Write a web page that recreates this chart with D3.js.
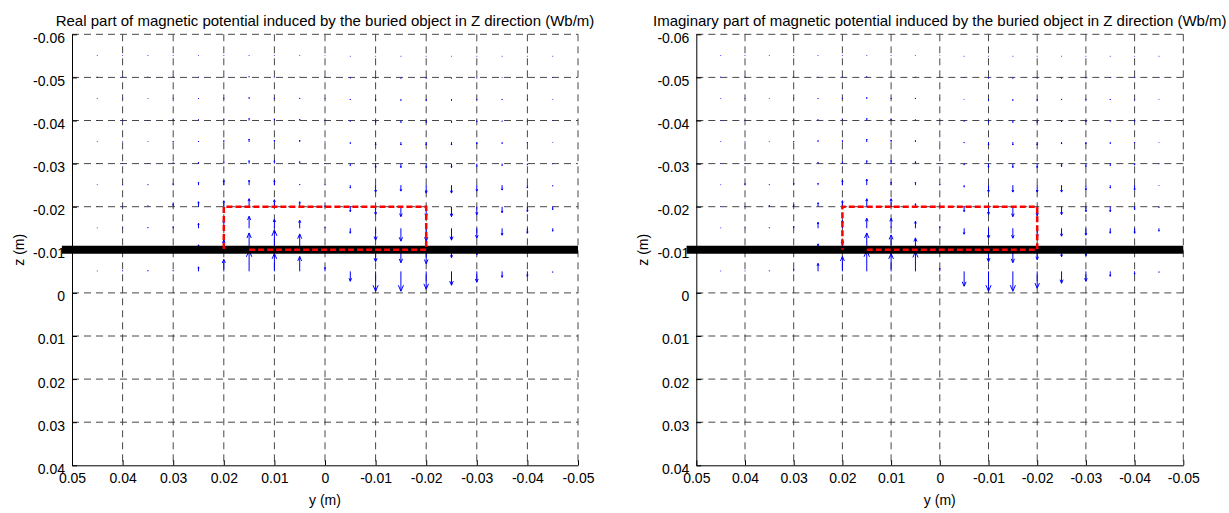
<!DOCTYPE html>
<html>
<head>
<meta charset="utf-8">
<script src="https://cdn.jsdelivr.net/npm/d3@7"></script>
<style>
  body { margin: 0; background: #fff; }
  svg { display: block; font-family: "Liberation Sans", Arial, sans-serif; }
</style>
</head>
<body>
<svg id="chart" width="1229" height="513"></svg>
<script>
// tick values / labels
var yTicks = [0.05, 0.04, 0.03, 0.02, 0.01, 0, -0.01, -0.02, -0.03, -0.04, -0.05];
var yLabels = ["0.05", "0.04", "0.03", "0.02", "0.01", "0", "-0.01", "-0.02", "-0.03", "-0.04", "-0.05"];
var zTicks = [-0.06, -0.05, -0.04, -0.03, -0.02, -0.01, 0, 0.01, 0.02, 0.03, 0.04];
var zLabels = ["-0.06", "-0.05", "-0.04", "-0.03", "-0.02", "-0.01", "0", "0.01", "0.02", "0.03", "0.04"];

// quiver grid
var gridY = [0.045, 0.04, 0.035, 0.03, 0.025, 0.02, 0.015, 0.01, 0.005, 0,
             -0.005, -0.01, -0.015, -0.02, -0.025, -0.03, -0.035, -0.04, -0.045];
var gridZ = [-0.055, -0.05, -0.045, -0.04, -0.035, -0.03, -0.025, -0.02, -0.015, -0.01, -0.005];

// z component of the arrows, one array per y column (top row first)
var realDz = [
  [-.5,-.5,-.5,-.5,-.5,-.5,-.5,-.5,-.5,-.5,-.5],
  [-.5,-.5,-.5,-.5,-.5,-.5,-.5,-.5,-.5,-.8,-.8],
  [-.5,-.5,-.5,-.5,-.5,-.5,-.8,-1,-1,-1,-1],
  [-.5,-.5,-.5,-.8,-1,-1,-1.5,-3,-1.5,-1,-1],
  [-.5,-.5,-.8,-1,-1,-1.5,-3,-5,-5,-5,-4.5],
  [-.5,-.5,-1,-1,-1.5,-2,-5,-6,-8,-10,-12],
  [-.5,-1,-1.5,-2,-3,-3,-5,-8,-12,-17,-21],
  [-.5,-.5,-1,-1.5,-2,-3,-5,-7,-9,-20,-18],
  [-.5,-.5,-1,-1.5,-2,-2,-1,-5,-8,-16,-15],
  [-.3,-.3,-.5,-.5,-.5,-.5,-.5,-1,-1,-2,-4],
  [.5,.8,1,1,1.5,2,3,5,5,3,10],
  [.5,1,1.5,2,3,4,7,8,12,12,20],
  [.5,1,1.5,2,3,4,6,10,13,13,20],
  [.5,1,1.5,2,3,4,8,10,13,14,18],
  [.5,1,1.5,2,3,4,8,10,12,8,14],
  [.5,.8,1,1.5,2,3,6,8,10,5,11],
  [.5,.5,1,1,1.5,2,5,6,7,3,6],
  [.5,.5,.5,1,1,1.5,3,5,5,2,5],
  [.5,.5,.5,.5,.5,.5,1,3,3,1,1]
];
var imagDz = [
  [-.5,-.5,-.5,-.5,-.5,-.5,-.5,-.5,-.5,-.5,-.5],
  [-.5,-.5,-.5,-.5,-.5,-.5,-1.5,-.5,-.5,-.5,-.5],
  [-.5,-.5,-.5,-.5,-.5,-.5,-.8,-1.5,-.8,-.5,-.8],
  [-.5,-.5,-.5,-.8,-1,-1,-2,-2,-2,-1.5,-2],
  [-.5,-.5,-.8,-1,-1.5,-1.5,-2,-4,-6,-6,-8],
  [-.5,-.5,-1,-1,-1.5,-2,-5,-6,-8,-10,-15],
  [-.5,-1,-1.5,-2,-3,-3,-6,-8,-10,-17,-21],
  [-.5,-.5,-1,-1.5,-2,-3,-3,-8,-10,-15,-18],
  [-.5,-.5,-1,-1,-1.5,-2,-3,-3,-7,-12,-20],
  [-.3,-.3,-.3,-.5,-.5,-.5,-1,-1,-1.5,-2,-3],
  [.5,.5,.5,1,1,1.5,2,5,6,3,15],
  [.5,1,1.5,2,3,4,7,8,10,12,20],
  [.5,1,1.5,2,3,4,7,10,10,13,20],
  [.5,1,1.5,2,3,4,7,9,9,10,17],
  [.5,1,1,1.5,2,3,7,8,8,7,12],
  [.5,.8,1,1.5,2,3,5,5,7,6,10],
  [.5,.5,1,1,1.5,2,3,5,5,2,5],
  [.5,.5,.5,1,1,1.5,5,3,5,2,3],
  [.5,.5,.5,.5,.5,.5,.5,1,3,1,1]
];
var arrowScale = 0.00023; // m per quiver unit

// buried object outline and the interface line
var objY = [0.015, -0.02, -0.02, 0.02, 0.02];
var objZ = [-0.01, -0.01, -0.02, -0.02, -0.01];
var surfY = [0.052, -0.05];
var surfZ = -0.01;

var titles = [
  "Real part of magnetic potential induced by the buried object in Z direction (Wb/m)",
  "Imaginary part of magnetic potential induced by the buried object in Z direction (Wb/m)"
];

var svg = d3.select("#chart");

function drawPanel(left, right, title, dz) {
  var x = d3.scaleLinear().domain([0.05, -0.05]).range([left, right]);
  var y = d3.scaleLinear().domain([-0.06, 0.04]).range([34.3, 465.3]);
  var g = svg.append("g");

  // grid
  g.selectAll(".vgrid").data(yTicks.slice(1)).enter().append("line")
    .attr("x1", d => x(d)).attr("x2", d => x(d))
    .attr("y1", y(-0.06)).attr("y2", y(0.04))
    .attr("stroke", "#333").attr("stroke-width", 0.9)
    .attr("stroke-dasharray", "7,5");
  g.selectAll(".hgrid").data(zTicks.slice(0, -1)).enter().append("line")
    .attr("x1", x(0.05)).attr("x2", x(-0.05))
    .attr("y1", d => y(d)).attr("y2", d => y(d))
    .attr("stroke", "#333").attr("stroke-width", 0.9)
    .attr("stroke-dasharray", "7,5");

  // axes (ticks point inward)
  var ax = g.append("g").attr("transform", "translate(0," + y(0.04) + ")")
    .call(d3.axisBottom(x).tickValues(yTicks).tickFormat((d, i) => yLabels[i])
      .tickSizeInner(-5).tickSizeOuter(0).tickPadding(8));
  var ay = g.append("g").attr("transform", "translate(" + x(0.05) + ",0)")
    .call(d3.axisLeft(y).tickValues(zTicks).tickFormat((d, i) => zLabels[i])
      .tickSizeInner(-5).tickSizeOuter(0).tickPadding(7));
  [ax, ay].forEach(function (a) {
    a.selectAll("text").attr("font-size", "14px").attr("fill", "#000")
      .attr("font-family", "Liberation Sans, Arial, sans-serif");
    a.selectAll("line,path").attr("stroke", "#000");
  });
  ay.selectAll("text").attr("dy", "0.57em");

  // quiver
  var arrows = [];
  gridY.forEach(function (yy, i) {
    gridZ.forEach(function (zz, j) {
      arrows.push({ y: yy, z: zz, v: dz[i][j] });
    });
  });
  var q = g.append("g").attr("stroke", "#0000ff").attr("stroke-width", 1).attr("fill", "none");
  q.selectAll("path").data(arrows).enter().append("path")
    .attr("d", function (d) {
      var x0 = x(d.y), y0 = y(d.z), y1 = y(d.z + d.v * arrowScale);
      var L = y1 - y0;
      var h = L * 0.3, w = Math.abs(L) * 0.13;
      return "M" + x0 + "," + y0 + "L" + x0 + "," + y1 +
        "M" + (x0 - w) + "," + (y1 - h) + "L" + x0 + "," + y1 + "L" + (x0 + w) + "," + (y1 - h);
    });

  // interface line
  g.append("line")
    .attr("x1", x(surfY[0])).attr("x2", x(surfY[1]))
    .attr("y1", y(surfZ)).attr("y2", y(surfZ))
    .attr("stroke", "#000").attr("stroke-width", 8);

  // object outline
  var line = d3.line().x(d => x(d[0])).y(d => y(d[1]));
  g.append("path").datum(d3.zip(objY, objZ))
    .attr("d", line).attr("fill", "none")
    .attr("stroke", "#ff0000").attr("stroke-width", 2.5)
    .attr("stroke-dasharray", "6,3");

  // labels
  g.append("text").attr("x", (left + right) / 2).attr("y", 26)
    .attr("text-anchor", "middle").attr("font-size", "15px").text(title);
  g.append("text").attr("x", (left + right) / 2).attr("y", 505)
    .attr("text-anchor", "middle").attr("font-size", "14px").text("y (m)");
  g.append("text")
    .attr("transform", "translate(" + (left - 48) + "," + y(-0.01) + ") rotate(-90)")
    .attr("text-anchor", "middle").attr("font-size", "14px").text("z (m)");
}

drawPanel(72, 578, titles[0], realDz);
drawPanel(696.3, 1183.3, titles[1], imagDz);
</script>
</body>
</html>
